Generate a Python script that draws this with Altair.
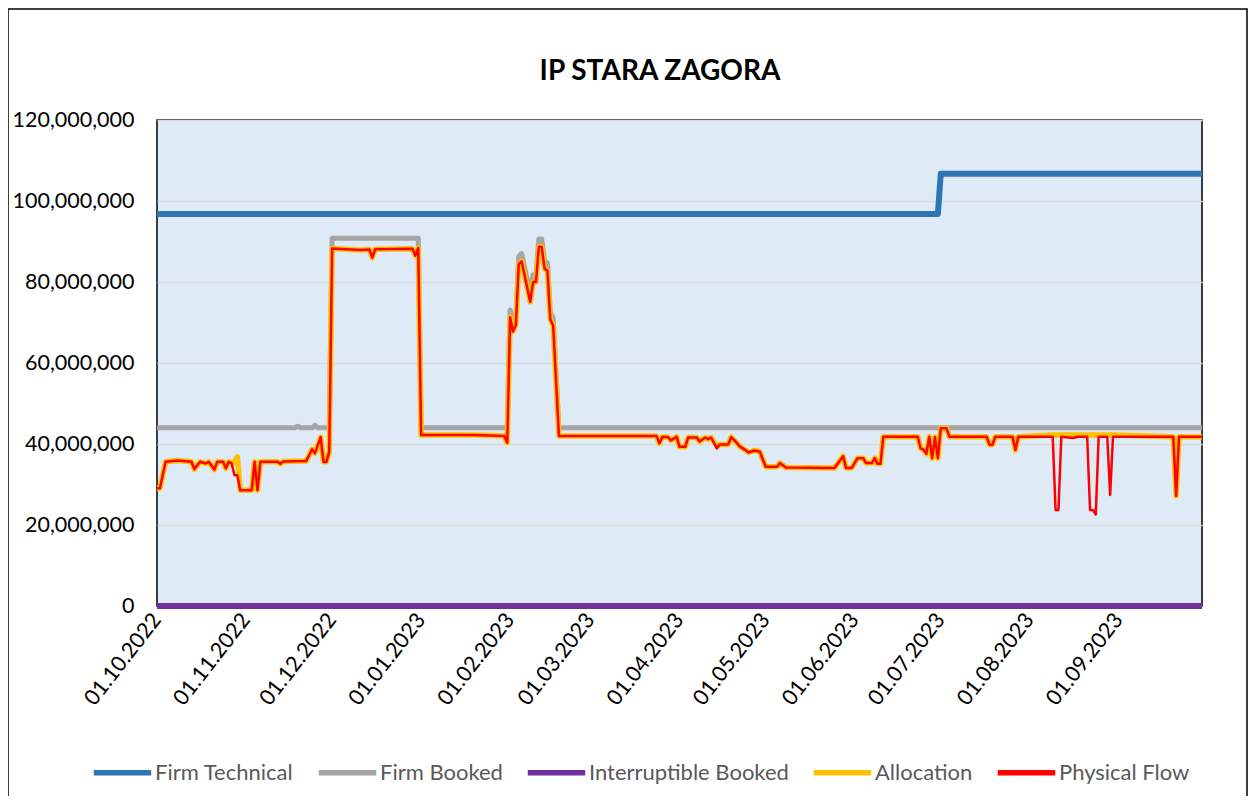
import altair as alt
import pandas as pd

# ---- data (values in millions, days counted from 01.10.2022) ----
series_names = ["Firm Technical", "Firm Booked", "Interruptible Booked", "Allocation", "Physical Flow"]
series_colors = ["#2E75B6", "#A5A5A5", "#7030A0", "#FFC000", "#FF0000"]
series_widths = [6, 5, 6, 5.5, 2.5]

tech_days = [0, 272, 273, 364]
tech_vals = [96.8, 96.8, 106.7, 106.7]

booked_days = [0, 48, 49, 50, 54, 55, 56, 60, 61, 91, 92, 122, 123, 124, 125, 126, 127, 130, 131,
               132, 133, 134, 135, 136, 137, 138, 140, 364]
booked_vals = [44.0, 44.0, 44.4, 44.0, 44.0, 44.6, 44.0, 44.0, 90.8, 90.8, 44.0, 44.0, 73.1, 69.8,
               71.2, 86.3, 87.0, 77.0, 81.8, 81.8, 90.6, 90.6, 85.2, 84.7, 72.6, 71.0, 44.0, 44.0]

interr_days = [0, 364]
interr_vals = [0.0, 0.0]

flow_days = [0, 1, 3, 7, 12, 13, 15, 17, 18, 20, 21, 23, 24, 25, 26, 27, 28, 29, 33, 34, 35, 36,
             42, 43, 44, 52, 54, 55, 57, 58, 59, 60, 61, 71, 74, 75, 76, 89, 90, 91, 92, 110, 121,
             122, 123, 124, 125, 126, 127, 130, 131, 132, 133, 134, 135, 136, 137, 138, 140,
             174, 175, 176, 178, 179, 181, 182, 184, 185, 188, 189, 191, 192, 193, 195, 196,
             199, 200, 201, 203, 205, 206, 208, 210, 212, 216, 217, 219, 236, 239, 240, 242,
             244, 246, 247, 249, 250, 251, 252, 253, 265, 266, 267, 268, 269, 270, 271, 272,
             273, 275, 276, 289, 290, 291, 292, 298, 299, 300, 312, 313, 314, 315, 319, 321,
             324, 325, 326, 327, 328, 331, 332, 333, 354, 355, 356, 364]
flow_vals = [29.1, 29.1, 35.6, 35.9, 35.6, 33.8, 35.6, 35.2, 35.6, 33.7, 35.6, 35.6, 34.0, 35.6,
             35.2, 32.3, 32.3, 28.6, 28.6, 35.6, 28.6, 35.6, 35.6, 35.1, 35.7, 35.8, 38.7, 37.7,
             41.7, 35.6, 35.6, 38.1, 88.3, 87.9, 88.0, 86.0, 88.1, 88.2, 86.5, 88.4, 42.2, 42.2,
             42.0, 40.3, 71.3, 67.8, 69.3, 84.4, 85.1, 75.1, 80.0, 80.0, 88.7, 88.7, 83.3, 82.8,
             70.8, 69.2, 42.0, 42.0, 40.2, 41.7, 41.7, 40.9, 41.8, 39.3, 39.3, 41.6, 41.6, 40.6,
             41.6, 41.2, 41.6, 38.9, 39.9, 39.9, 41.7, 41.0, 39.4, 38.5, 37.9, 38.4, 38.1, 34.4,
             34.4, 35.3, 34.2, 34.1, 37.0, 34.1, 34.1, 36.5, 36.5, 35.3, 35.3, 36.5, 35.1, 35.1,
             41.8, 41.8, 38.9, 38.6, 37.6, 41.8, 36.5, 41.7, 36.5, 43.9, 43.9, 41.8, 41.8, 39.8,
             39.8, 41.8, 41.8, 38.5, 41.8, 41.8, 23.7, 23.7, 41.8, 41.5, 41.8, 41.8, 23.7, 23.7,
             22.6, 41.8, 41.8, 27.4, 41.8, 41.8, 27.2, 41.8, 41.8]

alloc_days = [0, 1, 3, 7, 12, 13, 15, 17, 18, 20, 21, 23, 24, 25, 26, 27, 28, 29, 33, 34, 35, 36,
              42, 43, 44, 52, 54, 55, 57, 58, 59, 60, 61, 71, 74, 75, 76, 89, 90, 91, 92, 110, 121,
              122, 123, 124, 125, 126, 127, 130, 131, 132, 133, 134, 135, 136, 137, 138, 140,
              174, 175, 176, 178, 179, 181, 182, 184, 185, 188, 189, 191, 192, 193, 195, 196,
              199, 200, 201, 203, 205, 206, 208, 210, 212, 216, 217, 219, 236, 239, 240, 242,
              244, 246, 247, 249, 250, 251, 252, 253, 265, 266, 267, 268, 269, 270, 271, 272,
              273, 275, 276, 289, 290, 291, 292, 298, 299, 300, 312, 333, 354, 355, 356, 364]
alloc_vals = [29.1, 29.1, 35.6, 35.9, 35.6, 33.8, 35.6, 35.2, 35.6, 33.7, 35.6, 35.6, 34.0, 35.6,
              35.2, 35.6, 36.9, 28.6, 28.6, 35.6, 28.6, 35.6, 35.6, 35.1, 35.7, 35.8, 38.7, 37.7,
              41.7, 35.6, 35.6, 38.1, 88.3, 87.9, 88.0, 86.0, 88.1, 88.2, 86.5, 88.4, 42.2, 42.2,
              42.0, 40.3, 71.3, 67.8, 69.3, 84.4, 85.1, 75.1, 80.0, 80.0, 88.7, 88.7, 83.3, 82.8,
              70.8, 69.2, 42.0, 42.0, 40.2, 41.7, 41.7, 40.9, 41.8, 39.3, 39.3, 41.6, 41.6, 40.6,
              41.6, 41.2, 41.6, 39.5, 39.9, 39.9, 41.7, 41.0, 39.4, 38.5, 37.9, 38.4, 38.1, 34.4,
              34.4, 35.3, 34.2, 34.1, 37.0, 34.1, 34.1, 36.5, 36.5, 35.3, 35.3, 36.5, 35.1, 35.1,
              41.8, 41.8, 38.9, 38.6, 37.6, 41.8, 36.5, 41.7, 36.5, 43.9, 43.9, 41.8, 41.8, 39.8,
              39.8, 41.8, 41.8, 38.5, 41.8, 42.2, 42.2, 41.8, 27.2, 41.8, 41.8]

tick_dates = ["2022-10-01", "2022-11-01", "2022-12-01", "2023-01-01", "2023-02-01", "2023-03-01",
              "2023-04-01", "2023-05-01", "2023-06-01", "2023-07-01", "2023-08-01", "2023-09-01"]
y_ticks = [0, 20e6, 40e6, 60e6, 80e6, 100e6, 120e6]
chart_title = "IP STARA ZAGORA"

START = pd.Timestamp("2022-10-01")


def frame(name, days, vals):
    dates = [(START + pd.Timedelta(days=d)).strftime("%Y-%m-%d") for d in days]
    return pd.DataFrame({"date": dates, "value": [v * 1e6 for v in vals], "series": name})


frames = [
    frame("Firm Technical", tech_days, tech_vals),
    frame("Firm Booked", booked_days, booked_vals),
    frame("Interruptible Booked", interr_days, interr_vals),
    frame("Allocation", alloc_days, alloc_vals),
    frame("Physical Flow", flow_days, flow_vals),
]

FONT = "Lato"


def dt(s):
    y, m, d = (int(p) for p in s.split("-"))
    return alt.DateTime(year=y, month=m, date=d, utc=True)


x_enc = alt.X(
    "date:T",
    scale=alt.Scale(type="utc", domain=[dt("2022-10-01"), dt("2023-09-30")]),
    axis=alt.Axis(
        values=[dt(s) for s in tick_dates],
        labelExpr="utcFormat(datum.value, '%d.%m.%Y')",
        labelAngle=-52, labelAlign="right", labelBaseline="middle",
        labelFontSize=21.5, labelColor="#000000", labelFont=FONT,
        labelPadding=10, ticks=False, domain=False, grid=False, title=None,
        labelOverlap=False, labelBound=False, labelFlush=False,
    ),
)
y_enc = alt.Y(
    "value:Q",
    scale=alt.Scale(domain=[0, 120e6], nice=False, zero=True),
    axis=alt.Axis(
        values=y_ticks, format=",d", labelFontSize=21.5, labelColor="#000000", labelFont=FONT,
        labelPadding=23, ticks=False, domain=False, grid=True, gridColor="#D9D9D9",
        gridWidth=1.5, title=None,
    ),
)
color_enc = alt.Color(
    "series:N",
    scale=alt.Scale(domain=series_names, range=series_colors),
    legend=alt.Legend(
        title=None, orient="none", legendX=-66, legendY=621, direction="horizontal",
        symbolType="stroke", symbolSize=3300, symbolStrokeWidth=5.5, labelFontSize=22,
        labelColor="#595959", labelFont=FONT, labelOffset=1, columnPadding=13,
        labelLimit=400,
    ),
)

layers = []
for f, w in zip(frames, series_widths):
    layers.append(
        alt.Chart(f).mark_line(strokeJoin="round", strokeWidth=w, clip=False).encode(
            x=x_enc, y=y_enc, color=color_enc
        )
    )

border = alt.Chart(pd.DataFrame({"k": [0]})).mark_rect(
    filled=False, stroke="#000000", strokeWidth=1.5
).encode(
    x=alt.value(-149), x2=alt.value(1090), y=alt.value(-111), y2=alt.value(720)
)

title_text = alt.Chart(pd.DataFrame({"t": [chart_title]})).mark_text(
    font=FONT, fontSize=28, fontWeight="bold", color="#000000", align="center",
    baseline="alphabetic"
).encode(text="t:N", x=alt.value(503), y=alt.value(-40))

chart = alt.layer(*layers, border, title_text).properties(
    width=1045,
    height=486,
    autosize=alt.AutoSizeParams(type="none"),
    padding={"left": 149, "top": 112, "right": 46, "bottom": 190},
    background="#FFFFFF",
).configure_view(
    fill="#DEEBF7", stroke="#000000", strokeWidth=1.5
)

chart.save("out.html", embed_options={"renderer": "svg", "actions": False})
